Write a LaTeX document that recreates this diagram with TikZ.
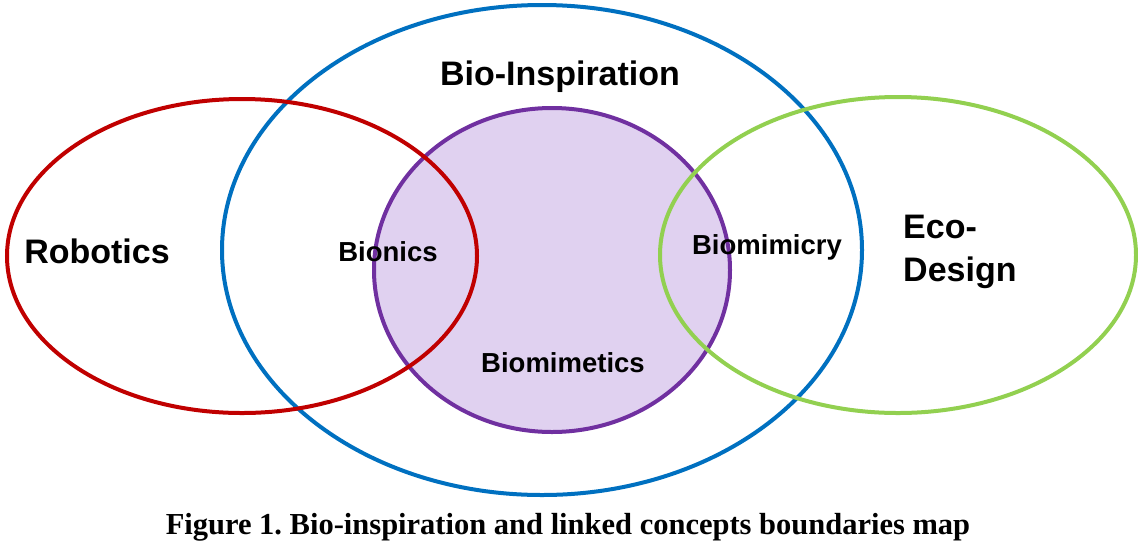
\documentclass[tikz,border=0pt]{standalone}
\usepackage{fontspec}
\setmainfont{Liberation Serif}
\setsansfont{Liberation Sans}
\usepackage{xcolor}
\usepackage{tikz}
\usetikzlibrary{positioning}
\frenchspacing
\definecolor{robred}{RGB}{192,0,0}
\definecolor{bioblue}{RGB}{0,112,192}
\definecolor{mimpurple}{RGB}{112,48,160}
\definecolor{mimfill}{RGB}{224,209,240}
\definecolor{ecogreen}{RGB}{146,208,80}

\begin{document}
\begin{tikzpicture}[x=1pt, y=-1pt,
    ring/.style={line width=4pt},
    biglabel/.style={font=\sffamily\bfseries\fontsize{34}{40}\selectfont, inner sep=0pt},
    smalllabel/.style={font=\sffamily\bfseries\fontsize{27.5}{32}\selectfont, inner sep=0pt}]
  \useasboundingbox (0,0) rectangle (1138,542);
  \filldraw[ring, draw=mimpurple, fill=mimfill] (552,270) ellipse [x radius=178, y radius=162];
  \draw[ring, bioblue] (542,250) ellipse [x radius=320, y radius=245];
  \draw[ring, robred] (242,256) ellipse [x radius=235, y radius=157];
  \draw[ring, ecogreen] (898,255) ellipse [x radius=238, y radius=158];
  \node[biglabel, anchor=base] (robotics) at (97,263) {Robotics};
  \node[biglabel, anchor=base] (inspiration) at (560,85) {Bio-Inspiration};
  \node[biglabel, anchor=base west] (eco) at (903,238) {Eco-};
  \node[biglabel, anchor=base west] (design) at (903,281) {Design};
  \node[smalllabel, anchor=base] (bionics) at (388,261) {Bionics};
  \node[smalllabel, anchor=base] (biomimicry) at (767,254) {Biomimicry};
  \node[smalllabel, anchor=base] (biomimetics) at (563,372) {Biomimetics};
  \node[font=\rmfamily\bfseries\fontsize{30.5}{36}\selectfont, inner sep=0pt, anchor=base]
    (caption) at (568,534) {Figure 1. Bio-inspiration and linked concepts boundaries map};
\end{tikzpicture}
\end{document}
